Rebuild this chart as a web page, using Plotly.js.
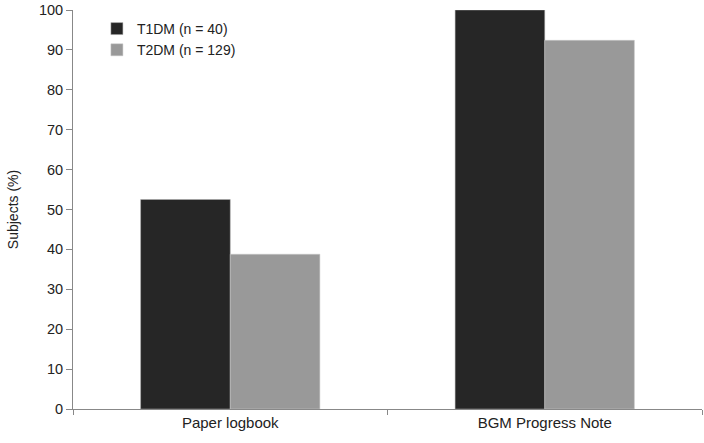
<!DOCTYPE html>
<html>
<head>
<meta charset="utf-8">
<script src="https://cdn.plot.ly/plotly-3.0.1.min.js"></script>
<style>
  body { margin: 0; background: #fff; }
  #chart { width: 704px; height: 443px; }
</style>
</head>
<body>
<div id="chart"></div>
<script>
let categories = ['Paper logbook', 'BGM Progress Note']
let t1dm = [52.5, 100]
let t2dm = [38.8, 92.4]
let seriesNames = ['T1DM (n = 40)', 'T2DM (n = 129)']

let trace1 = {
  x: categories,
  y: t1dm,
  type: 'bar',
  name: seriesNames[0],
  marker: {
    color: '#262626',
    line: {color: '#b0b0b0', width: 0.5}
  }
}
let trace2 = {
  x: categories,
  y: t2dm,
  type: 'bar',
  name: seriesNames[1],
  marker: {
    color: '#999999',
    line: {color: '#c8c8c8', width: 0.5}
  }
}

let layout = {
  width: 704,
  height: 443,
  autosize: false,
  barmode: 'group',
  bargap: 0.43,
  bargroupgap: 0,
  paper_bgcolor: '#fff',
  plot_bgcolor: '#fff',
  font: {family: 'Liberation Sans, Arial, sans-serif', size: 14, color: '#222'},
  margin: {l: 73, r: 2, t: 10, b: 34, pad: 0},
  xaxis: {
    showline: true,
    linecolor: '#888',
    linewidth: 1,
    ticks: 'outside',
    tickson: 'boundaries',
    ticklen: 5,
    tickcolor: '#888',
    showgrid: false,
    zeroline: false,
    tickfont: {size: 15}
  },
  yaxis: {
    range: [0, 100],
    dtick: 10,
    showline: true,
    linecolor: '#888',
    linewidth: 1,
    ticks: 'outside',
    ticklen: 6,
    tickcolor: '#888',
    showgrid: false,
    zeroline: false,
    tickfont: {size: 14.5},
    title: {text: 'Subjects (%)', font: {size: 14}, standoff: 16}
  },
  showlegend: true,
  legend: {
    x: 0.038,
    y: 0.9925,
    xanchor: 'left',
    yanchor: 'top',
    bgcolor: 'rgba(0,0,0,0)',
    font: {size: 14},
    itemwidth: 30,
    tracegroupgap: 0
  }
}

Plotly.newPlot('chart', [trace1, trace2], layout, {displayModeBar: false})
</script>
</body>
</html>
